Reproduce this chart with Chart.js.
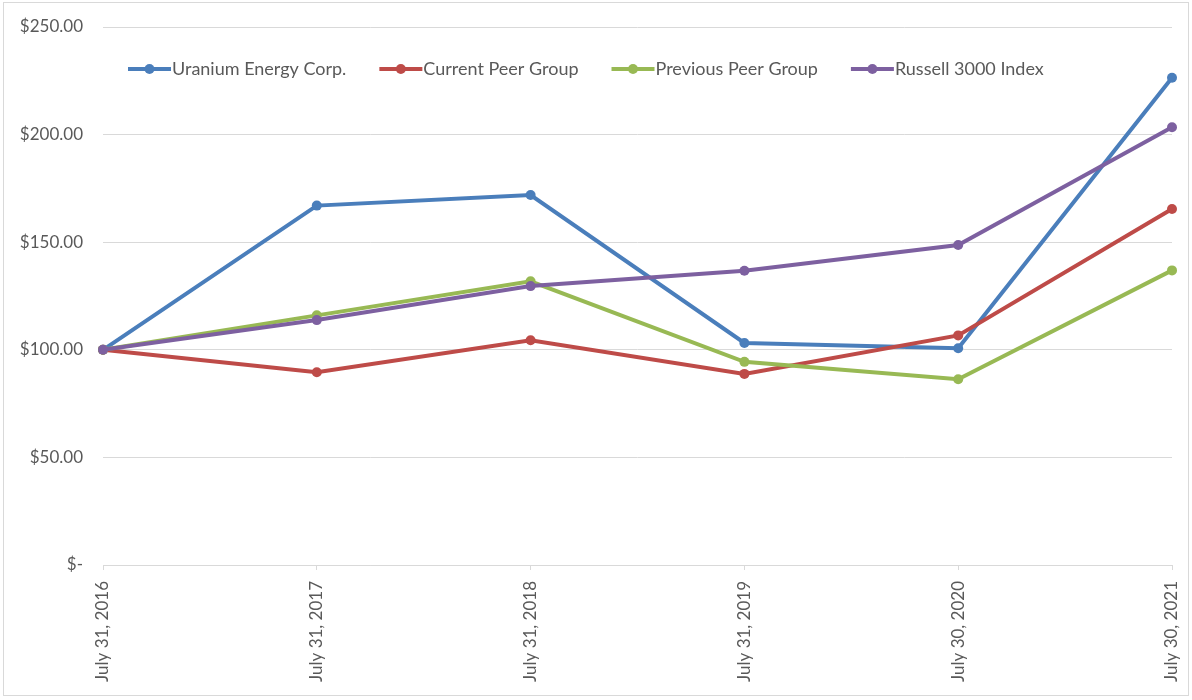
<!DOCTYPE html>
<html>
<head>
<meta charset="utf-8">
<script src="https://cdn.jsdelivr.net/npm/chart.js@4"></script>
<style>
    html, body { margin: 0; padding: 0; background: #fff; }
    #wrap { position: relative; width: 1192px; height: 700px; }
</style>
</head>
<body>
<div id="wrap"><canvas id="perf-chart"></canvas></div>
<script>
// ── Data ────────────────────────────────────────────────────────────────────
const periods   = ['July 31, 2016', 'July 31, 2017', 'July 31, 2018', 'July 31, 2019', 'July 30, 2020', 'July 30, 2021'];
const uranium   = [100, 167.0, 171.9, 103.2, 100.7, 226.4];
const currentPG = [100, 89.6, 104.4, 88.8, 106.7, 165.4];
const previousPG = [100, 116.0, 131.8, 94.4, 86.3, 136.9];
const russell   = [100, 113.8, 129.6, 136.7, 148.7, 203.4];
const yTicks    = [0, 50, 100, 150, 200, 250];

const FONT = 'Lato, "Open Sans", sans-serif';
const TEXT = '#595959';
const GRID = '#d9d9d9';

function money(v) {
    if (v === 0) return '$-';
    return '$' + v.toFixed(2);
}

// legend: line + dot marker, drawn inside plot area like the Excel original
const excelLegend = {
    id: 'excelLegend',
    afterDraw(chart) {
        const ctx = chart.ctx;
        ctx.save();
        // outer frame
        ctx.strokeStyle = GRID;
        ctx.lineWidth = 1;
        ctx.strokeRect(3.5, 2.5, 1185, 693);

        ctx.font = '18px ' + FONT;
        ctx.textBaseline = 'middle';
        let x = 128;
        const y = 69;
        const items = chart.data.datasets.slice().sort((a, b) => a.legendIdx - b.legendIdx);
        items.forEach(ds => {
            ctx.strokeStyle = ds.borderColor;
            ctx.lineWidth = 4;
            ctx.beginPath();
            ctx.moveTo(x, y);
            ctx.lineTo(x + 43, y);
            ctx.stroke();
            ctx.fillStyle = ds.borderColor;
            ctx.beginPath();
            ctx.arc(x + 21.5, y, 5, 0, Math.PI * 2);
            ctx.fill();
            ctx.fillStyle = TEXT;
            ctx.fillText(ds.label, x + 44, y);
            x += 44 + ctx.measureText(ds.label).width + 33;
        });
        ctx.restore();
    }
};

function series(label, data, color, order, legendIdx) {
    return {
        label, data, order, legendIdx,
        borderColor: color,
        backgroundColor: color,
        borderWidth: 4,
        pointRadius: 5,
        pointHoverRadius: 5,
        pointBackgroundColor: color,
        pointBorderWidth: 0,
        tension: 0,
        clip: false,
    };
}

new Chart(document.getElementById('perf-chart'), {
    type: 'line',
    data: {
        labels: periods,
        datasets: [
            series('Uranium Energy Corp.', uranium,   '#4a7ebb', 4, 0),
            series('Current Peer Group',   currentPG, '#be4b48', 3, 1),
            series('Previous Peer Group',  previousPG,'#98b954', 2, 2),
            series('Russell 3000 Index',   russell,   '#7d60a0', 1, 3),
        ],
    },
    options: {
        responsive: true,
        maintainAspectRatio: false,
        animation: false,
        layout: { padding: { top: 27, right: 20, bottom: 0, left: 0 } },
        plugins: {
            legend:  { display: false },
            tooltip: { enabled: false },
        },
        scales: {
            x: {
                offset: false,
                afterFit(scale) {
                    scale.height = 135;
                    scale.paddingLeft = 0;
                    scale.paddingRight = 0;
                },
                grid: { drawOnChartArea: false, drawTicks: true, tickLength: 5, color: GRID },
                border: { display: true, color: GRID, width: 1 },
                ticks: {
                    color: TEXT,
                    font: { family: FONT, size: 17 },
                    minRotation: 90,
                    maxRotation: 90,
                    padding: 11,
                    autoSkip: false,
                },
            },
            y: {
                min: 0,
                max: 250,
                afterFit(scale) {
                    scale.width = 103;
                    scale.paddingTop = 0;
                    scale.paddingBottom = 0;
                },
                afterBuildTicks(scale) { scale.ticks = yTicks.map(v => ({ value: v })); },
                grid: { color: GRID, drawTicks: false },
                border: { display: false },
                ticks: {
                    color: TEXT,
                    font: { family: FONT, size: 17 },
                    padding: 20,
                    callback: v => money(v),
                },
            },
        },
    },
    plugins: [excelLegend],
});
</script>
</body>
</html>
